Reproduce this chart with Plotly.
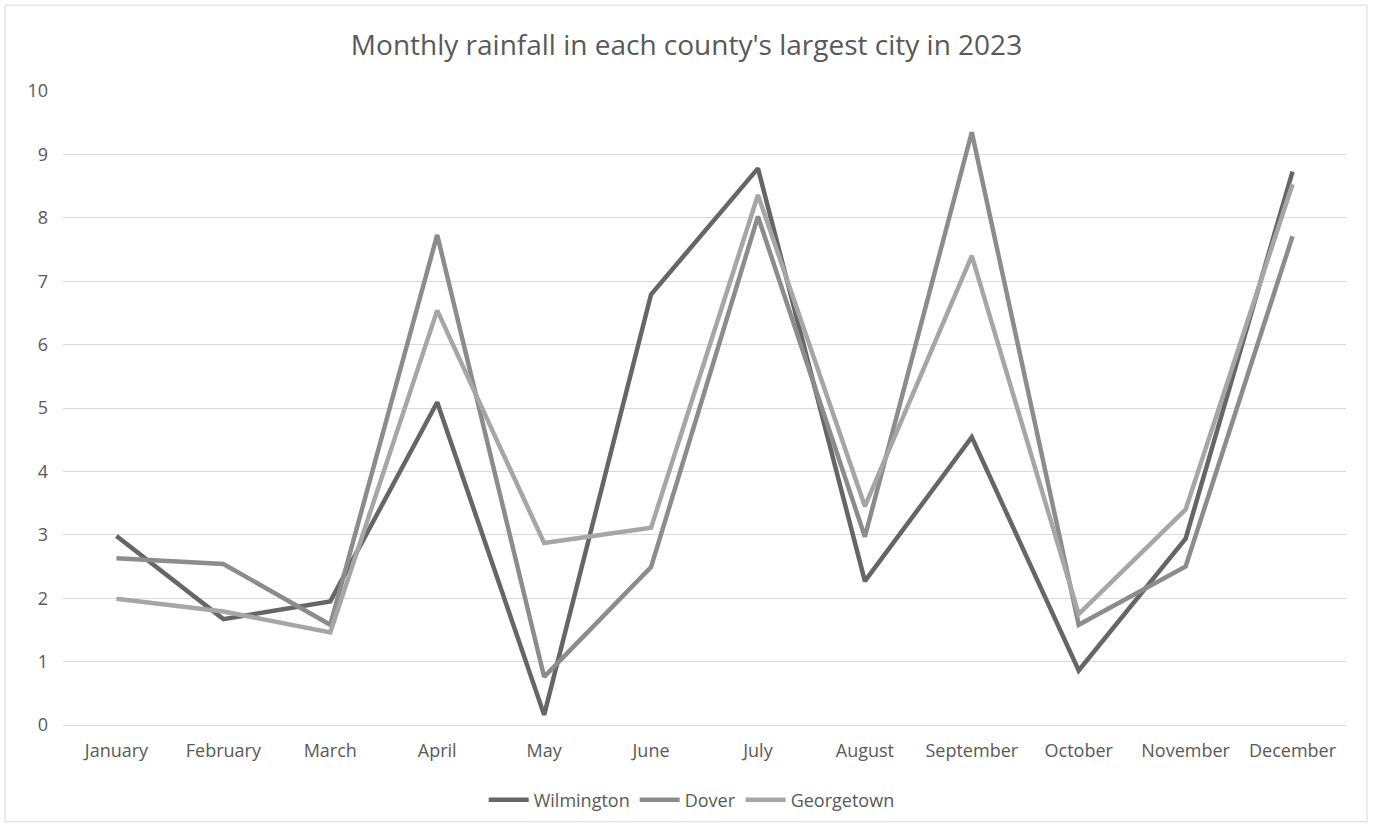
import plotly.graph_objects as go

months = ["January", "February", "March", "April", "May", "June", "July",
          "August", "September", "October", "November", "December"]
wilmington = [2.98, 1.67, 1.95, 5.09, 0.16, 6.79, 8.78, 2.27, 4.54, 0.86, 2.94, 8.73]
dover = [2.63, 2.54, 1.58, 7.73, 0.76, 2.49, 8.02, 2.97, 9.35, 1.58, 2.50, 7.71]
georgetown = [1.99, 1.79, 1.46, 6.54, 2.87, 3.11, 8.36, 3.45, 7.40, 1.75, 3.40, 8.53]

series = [("Wilmington", wilmington, "#666666"),
          ("Dover", dover, "#8c8c8c"),
          ("Georgetown", georgetown, "#a6a6a6")]

font_family = "Open Sans, Lato, sans-serif"
fig = go.Figure()
for name, vals, color in series:
    fig.add_trace(go.Scatter(x=months, y=vals, name=name, mode="lines",
                             line=dict(color=color, width=4.5)))

W, H = 1373, 829
L, R, T, B = 63, 27, 91, 103
pw, ph = W - L - R, H - T - B

fig.update_layout(
    width=W, height=H,
    margin=dict(l=L, r=R, t=T, b=B),
    paper_bgcolor="white", plot_bgcolor="white",
    font=dict(family=font_family, color="#595959", size=17),
    title=dict(text="Monthly rainfall in each county's largest city in 2023",
               x=0.5, xanchor="center", y=1 - 45 / H, yanchor="middle",
               font=dict(size=28, color="#595959", family=font_family)),
    xaxis=dict(type="category", range=[-0.5, 11.5], showgrid=False,
               showline=False, ticks="", tickfont=dict(size=18, color="#595959"),
               ticklabelstandoff=13),
    yaxis=dict(range=[0, 10], dtick=1, showgrid=True, gridcolor="#d9d9d9",
               gridwidth=1, zeroline=True, zerolinecolor="#d9d9d9", zerolinewidth=1,
               showline=False, ticks="", tickfont=dict(size=18, color="#595959"),
               ticklabelstandoff=14),
    legend=dict(orientation="h", x=0.49, xanchor="center", y=-(800 - (H - B)) / ph,
                yanchor="middle", font=dict(size=18, color="#595959"),
                itemwidth=40, tracegroupgap=0),
    showlegend=True,
    shapes=[dict(type="rect", xref="paper", yref="paper",
                 x0=(5 - L) / pw, x1=(W - 6 - L) / pw,
                 y0=-(H - 6 - (H - B)) / ph, y1=1 + (T - 5) / ph,
                 line=dict(color="#d9d9d9", width=1), layer="below")],
)

fig.write_html("out.html")
